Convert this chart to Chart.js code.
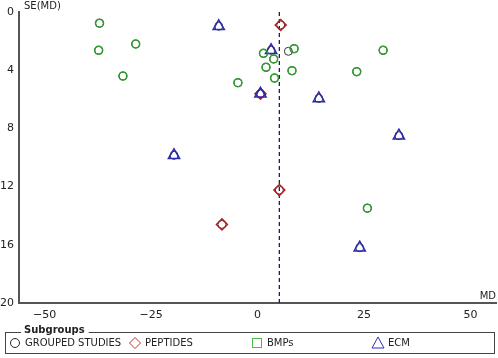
<!DOCTYPE html>
<html>
<head>
<meta charset="utf-8">
<script src="https://cdn.jsdelivr.net/npm/chart.js@4/dist/chart.umd.min.js"></script>
<style>
  html, body { margin: 0; padding: 0; background: #fff; }
  #funnel { display: block; }
</style>
</head>
<body>
<canvas id="funnel" width="498" height="358"></canvas>
<script>
// mean difference (x) and its standard error (y) per study, by subgroup
const bmpMD = [-37.1, -37.3, -28.6, -31.6, -4.6, 1.4, 3.8, 2.0, 4.0, 8.6, 8.1, 29.5, 23.3, 25.8];
const bmpSE = [0.77, 2.63, 2.2, 4.4, 4.86, 2.84, 3.23, 3.8, 4.54, 2.52, 4.03, 2.63, 4.1, 13.48];
const ecmMD = [-9.1, -19.6, 3.2, 0.7, 14.4, 33.2, 24.0];
const ecmSE = [0.98, 9.85, 2.63, 5.62, 5.94, 8.5, 16.2];
const peptideMD = [5.45, 0.7, 5.13, -8.35];
const peptideSE = [0.89, 5.62, 12.24, 14.6];
const otherMD = [7.25];
const otherSE = [2.7];
const pooledMD = 5.13;
const mdTicks = [-50, -25, 0, 25, 50];
const seTicks = [0, 4, 8, 12, 16, 20];
const legendItems = ['GROUPED STUDIES', 'PEPTIDES', 'BMPs', 'ECM'];

function pts(xs, ys) { return xs.map((x, i) => ({ x: x, y: ys[i] })); }

const allMD = otherMD.concat(bmpMD, ecmMD, peptideMD);
const allSE = otherSE.concat(bmpSE, ecmSE, peptideSE);

const font = "'DejaVu Sans', sans-serif";

const extras = {
  id: 'extras',
  afterDraw(chart) {
    const c = chart.ctx;
    c.save();
    c.fillStyle = '#222';
    c.font = '10px ' + font;
    c.textBaseline = 'middle';
    c.textAlign = 'left';
    c.fillText('SE(MD)', 24, 6);
    c.textAlign = 'right';
    c.fillText('MD', 496, 296);

    // subgroup legend box
    c.strokeStyle = '#444';
    c.lineWidth = 1;
    c.strokeRect(5.5, 332.5, 489, 21);
    c.font = 'bold 10px ' + font;
    c.textAlign = 'left';
    const w = c.measureText('Subgroups').width;
    c.fillStyle = '#fff';
    c.fillRect(21, 326, w + 7, 10);
    c.fillStyle = '#222';
    c.fillText('Subgroups', 24, 330);

    c.font = '10px ' + font;
    const y = 343;
    const xs = [15, 135, 257, 378];
    c.lineWidth = 1;
    // circle
    c.strokeStyle = '#222';
    c.beginPath(); c.arc(xs[0], y, 4.5, 0, Math.PI * 2); c.stroke();
    // diamond
    c.strokeStyle = '#c03030';
    c.beginPath();
    c.moveTo(xs[1], y - 5.5); c.lineTo(xs[1] + 5.5, y); c.lineTo(xs[1], y + 5.5); c.lineTo(xs[1] - 5.5, y);
    c.closePath(); c.stroke();
    // square
    c.strokeStyle = '#4cba4c';
    c.strokeRect(xs[2] - 4.5, y - 4.5, 9, 9);
    // triangle
    c.strokeStyle = '#3030c0';
    c.beginPath();
    c.moveTo(xs[3], y - 6); c.lineTo(xs[3] + 6, y + 5); c.lineTo(xs[3] - 6, y + 5);
    c.closePath(); c.stroke();

    c.fillStyle = '#222';
    legendItems.forEach((t, i) => c.fillText(t, xs[i] + 10, y));
    c.restore();
  }
};

new Chart(document.getElementById('funnel'), {
  type: 'scatter',
  data: {
    datasets: [
      {
        label: 'BMPs', data: pts(bmpMD, bmpSE),
        pointStyle: 'circle', radius: 4, borderWidth: 1.5,
        borderColor: '#2f9e2f', backgroundColor: 'rgba(0,0,0,0)'
      },
      {
        label: 'ECM', data: pts(ecmMD, ecmSE),
        pointStyle: 'triangle', radius: 6.5, borderWidth: 1.5,
        borderColor: '#2a2ab0', backgroundColor: 'rgba(0,0,0,0)'
      },
      {
        label: 'PEPTIDES', data: pts(peptideMD, peptideSE),
        pointStyle: 'rectRot', radius: 5.5, borderWidth: 1.5,
        borderColor: '#b02020', backgroundColor: 'rgba(0,0,0,0)'
      },
      {
        label: 'GROUPED STUDIES', data: pts(allMD, allSE),
        pointStyle: 'circle', radius: 4, borderWidth: 1,
        borderColor: '#333', backgroundColor: 'rgba(0,0,0,0)'
      },
      {
        label: 'pooled', data: [{ x: pooledMD, y: 0 }, { x: pooledMD, y: 20 }],
        showLine: true, pointRadius: 0, borderColor: '#1c1c6e',
        borderWidth: 1.3, borderDash: [4, 3]
      }
    ]
  },
  options: {
    responsive: false,
    animation: false,
    events: [],
    layout: { autoPadding: false, padding: { top: 12, right: 2, left: 0, bottom: 0 } },
    plugins: { legend: { display: false }, tooltip: { enabled: false } },
    scales: {
      x: {
        type: 'linear', min: -56, max: 56,
        afterBuildTicks(s) { s.ticks = mdTicks.map(v => ({ value: v })); },
        afterFit(s) { s.height = 55; s.paddingLeft = 0; s.paddingRight = 0; },
        grid: { display: false, drawTicks: true, tickLength: 5, tickWidth: 1, tickColor: '#555' },
        border: { display: true, color: '#555', width: 2 },
        ticks: {
          font: { size: 11, family: font }, color: '#222', padding: 1,
          callback: v => String(v).replace('-', '\u2212')
        }
      },
      y: {
        type: 'linear', min: 0, max: 20, reverse: true,
        afterBuildTicks(s) { s.ticks = seTicks.map(v => ({ value: v })); },
        afterFit(s) { s.width = 19; s.paddingTop = 0; s.paddingBottom = 0; },
        grid: { display: false, drawTicks: true, tickLength: 4, tickWidth: 1, tickColor: '#555' },
        border: { display: true, color: '#555', width: 2 },
        ticks: { font: { size: 11, family: font }, color: '#222', padding: 1 }
      }
    }
  },
  plugins: [extras]
});
</script>
</body>
</html>
